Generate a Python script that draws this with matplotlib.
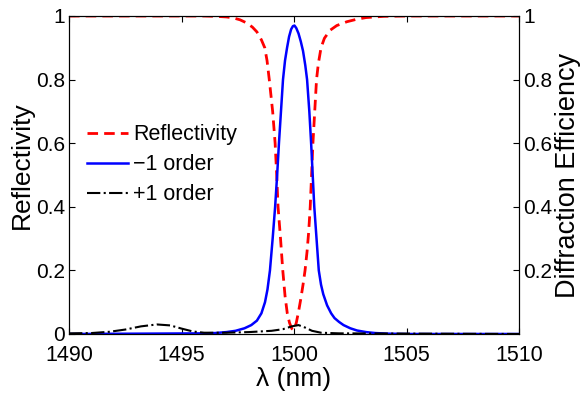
import matplotlib
matplotlib.use('Agg')
import matplotlib.pyplot as plt

plt.rcParams['font.family'] = ['Liberation Sans', 'DejaVu Sans']

# wavelength (nm) / value pairs
refl_wl = [1490, 1496, 1496.5, 1497, 1497.3, 1497.6, 1497.9, 1498.15, 1498.35,
           1498.55, 1498.7, 1498.8, 1498.9, 1499.05, 1499.16, 1499.23, 1499.29,
           1499.4, 1499.5, 1499.6, 1499.7, 1499.8, 1499.9, 1500.0, 1500.1,
           1500.2, 1500.3, 1500.4, 1500.49, 1500.58, 1500.65, 1500.72, 1500.78,
           1500.84, 1500.92, 1501.0, 1501.08, 1501.2, 1501.35, 1501.6, 1501.9,
           1502.35, 1502.8, 1503.2, 1504, 1505, 1510]
refl_val = [1, 1, 0.999, 0.997, 0.994, 0.988, 0.978, 0.965, 0.95,
            0.925, 0.9, 0.86, 0.8, 0.7, 0.6, 0.5, 0.4,
            0.3, 0.2, 0.12, 0.065, 0.035, 0.017, 0.012, 0.035,
            0.07, 0.11, 0.155, 0.2, 0.26, 0.32, 0.4, 0.5,
            0.6, 0.7, 0.8, 0.85, 0.9, 0.93, 0.955, 0.97,
            0.982, 0.99, 0.995, 0.999, 1, 1]

m1_wl = [1490, 1496, 1496.5, 1497, 1497.4, 1497.8, 1498.1, 1498.35, 1498.55,
         1498.71, 1498.82, 1498.93, 1499.05, 1499.16, 1499.25, 1499.33, 1499.42,
         1499.51, 1499.6, 1499.69, 1499.78, 1499.87, 1499.95, 1500.02, 1500.1,
         1500.2, 1500.3, 1500.4, 1500.5, 1500.58, 1500.68, 1500.76, 1500.83,
         1500.9, 1501.0, 1501.1, 1501.2, 1501.3, 1501.47, 1501.65, 1501.8,
         1502.0, 1502.2, 1502.5, 1502.8, 1503.2, 1503.6, 1504.2, 1505, 1510]
m1_val = [0, 0.002, 0.003, 0.006, 0.01, 0.018, 0.028, 0.042, 0.065,
          0.1, 0.14, 0.2, 0.3, 0.4, 0.5, 0.6, 0.7,
          0.8, 0.86, 0.9, 0.935, 0.958, 0.968, 0.97, 0.962,
          0.945, 0.92, 0.89, 0.845, 0.8, 0.7, 0.6, 0.5,
          0.4, 0.3, 0.2, 0.155, 0.125, 0.09, 0.065, 0.05,
          0.038, 0.028, 0.018, 0.011, 0.006, 0.003, 0.001, 0, 0]

p1_wl = [1490, 1491, 1491.8, 1492.5, 1493.2, 1493.9, 1494.5, 1495.0, 1495.5,
         1496, 1497, 1498, 1499, 1499.5, 1499.9, 1500.2, 1500.5, 1500.8,
         1501.2, 1502, 1510]
p1_val = [0.002, 0.003, 0.007, 0.014, 0.024, 0.03, 0.027, 0.017, 0.008,
          0.004, 0.004, 0.006, 0.01, 0.015, 0.024, 0.028, 0.02, 0.01,
          0.004, 0.002, 0.0]

xticks = [1490, 1495, 1500, 1505, 1510]
yticks_left = [0, 0.2, 0.4, 0.6, 0.8, 1]
ylabels_left = ['0', '0.2', '0.4', '0.6', '0.8', '1']
yticks_right = [0.2, 0.4, 0.6, 0.8, 1]
ylabels_right = ['0.2', '0.4', '0.6', '0.8', '1']

fig = plt.figure(figsize=(5.82, 3.94), dpi=100)
ax = fig.add_axes([0.1186, 0.1523, 0.7732, 0.8071])

ax.plot(refl_wl, refl_val, '--', color='#ff0000', lw=2, dashes=(3.8, 2.2), label='Reflectivity')
ax.plot(m1_wl, m1_val, '-', color='#0000ff', lw=1.8, label='\u22121 order')
ax.plot(p1_wl, p1_val, '-.', color='black', lw=1.5, label='+1 order')

ax.set_xlim(1490, 1510)
ax.set_ylim(0, 1)
ax.set_xticks(xticks)
ax.set_yticks(yticks_left)
ax.set_yticklabels(ylabels_left)
ax.tick_params(direction='in', length=4, top=True)
ax.tick_params(axis='y', labelsize=15, pad=3)
ax.tick_params(axis='x', labelsize=15.5, pad=8)
ax.set_xlabel('\u03bb (nm)', fontsize=19, labelpad=0.5)
ax.set_ylabel('Reflectivity', fontsize=19)
ax.yaxis.set_label_coords(-0.078, 0.53)

ax2 = ax.twinx()
ax2.set_ylim(0, 1)
ax2.set_yticks(yticks_right)
ax2.set_yticklabels(ylabels_right)
ax2.tick_params(direction='in', length=4, labelsize=15, pad=3)
ax2.set_ylabel('Diffraction Efficiency', fontsize=19.5, labelpad=2)

ax.legend(loc='center left', bbox_to_anchor=(0.04, 0.532), frameon=False,
          fontsize=15.5, handlelength=1.9, handletextpad=0.25, labelspacing=0.42,
          borderpad=0, borderaxespad=0)

fig.savefig('out.png', dpi=100)
